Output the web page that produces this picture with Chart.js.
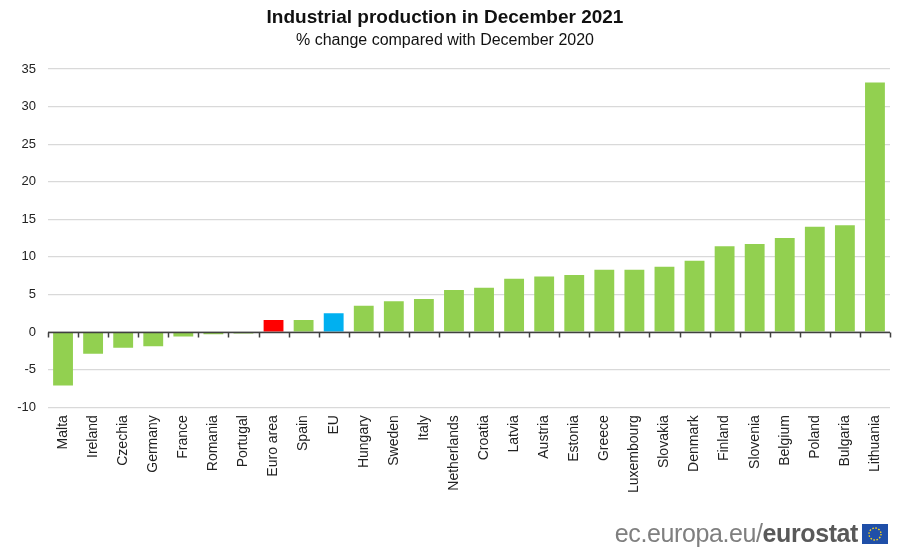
<!DOCTYPE html>
<html>
<head>
<meta charset="utf-8">
<script src="https://cdn.jsdelivr.net/npm/chart.js@4"></script>
<style>
  body { margin: 0; background: #fff; }
  #wrap { position: relative; width: 900px; height: 551px; }
  #footer { position: absolute; right: 12px; bottom: 3px; font-family: "Liberation Sans", Arial, sans-serif;
            font-size: 25px; color: #7f7f7f; display: flex; align-items: center; letter-spacing: -0.4px; }
  #footer b { color: #595959; }
  #footer svg { margin-left: 4px; }
</style>
</head>
<body>
<div id="wrap">
  <canvas id="chart" width="900" height="551"></canvas>
  <div id="footer"><span>ec.europa.eu/<b>eurostat</b></span>
    <svg width="26" height="20" viewBox="0 0 26 20"><rect width="26" height="20" fill="#1f4fa8"/>
      <circle cx="13" cy="10" r="6" fill="none" stroke="#ffd617" stroke-width="1.4" stroke-dasharray="1.5 1.6"/></svg>
  </div>
</div>
<script>
// data
const countries = ['Malta', 'Ireland', 'Czechia', 'Germany', 'France', 'Romania', 'Portugal', 'Euro area', 'Spain', 'EU',
  'Hungary', 'Sweden', 'Italy', 'Netherlands', 'Croatia', 'Latvia', 'Austria', 'Estonia', 'Greece', 'Luxembourg',
  'Slovakia', 'Denmark', 'Finland', 'Slovenia', 'Belgium', 'Poland', 'Bulgaria', 'Lithuania']
const change = [-7.1, -2.9, -2.1, -1.9, -0.6, -0.3, -0.2, 1.6, 1.6, 2.5,
  3.5, 4.1, 4.4, 5.6, 5.9, 7.1, 7.4, 7.6, 8.3, 8.3,
  8.7, 9.5, 11.4, 11.7, 12.5, 14.0, 14.2, 33.2]
const yTicks = [-10, -5, 0, 5, 10, 15, 20, 25, 30, 35]

const green = '#92d050'
const barColors = countries.map(c => c == 'Euro area' ? '#ff0000' : (c == 'EU' ? '#00b0f0' : green))

// zero line with small ticks between bars, drawn over the bars
const zeroLine = {
  id: 'zeroLine',
  afterDatasetsDraw(chart) {
    const x = chart.scales.x, y = chart.scales.y
    const c = chart.ctx
    const y0 = Math.round(y.getPixelForValue(0)) + 0.5
    c.save()
    c.strokeStyle = '#404040'
    c.lineWidth = 1.5
    c.beginPath()
    c.moveTo(x.left, y0); c.lineTo(x.right, y0)
    const step = x.width / countries.length
    for (let i = 0; i <= countries.length; i++) {
      const px = Math.round(x.left + i * step) + 0.5
      c.moveTo(px, y0); c.lineTo(px, y0 + 5)
    }
    c.stroke()
    c.restore()
  }
}

Chart.defaults.font.family = '"Liberation Sans", Arial, sans-serif'
Chart.defaults.color = '#222'

new Chart(document.getElementById('chart'), {
  type: 'bar',
  data: {
    labels: countries,
    datasets: [{ data: change, backgroundColor: barColors, categoryPercentage: 1, barPercentage: 0.66 }]
  },
  options: {
    responsive: false,
    animation: false,
    layout: { padding: { left: 0, right: 10, top: 0, bottom: 58 } },
    plugins: {
      legend: { display: false },
      tooltip: { enabled: false },
      title: { display: true, text: 'Industrial production in December 2021', color: '#111',
               font: { size: 19, weight: 'bold' }, padding: { top: 6, bottom: 2 } },
      subtitle: { display: true, text: '% change compared with December 2020', color: '#111',
                  font: { size: 16 }, padding: { top: 0, bottom: 19 } }
    },
    scales: {
      x: {
        grid: { display: false },
        border: { display: false },
        ticks: { minRotation: 90, maxRotation: 90, autoSkip: false, font: { size: 14 }, padding: 0 }
      },
      y: {
        min: -10, max: 35,
        afterBuildTicks: s => { s.ticks = yTicks.map(v => ({ value: v })) },
        afterFit: s => { s.width = 48 },
        border: { display: false },
        grid: { color: '#d9d9d9', lineWidth: 1.2, drawTicks: false },
        ticks: { font: { size: 13 }, padding: 12 }
      }
    }
  },
  plugins: [zeroLine]
})
</script>
</body>
</html>
